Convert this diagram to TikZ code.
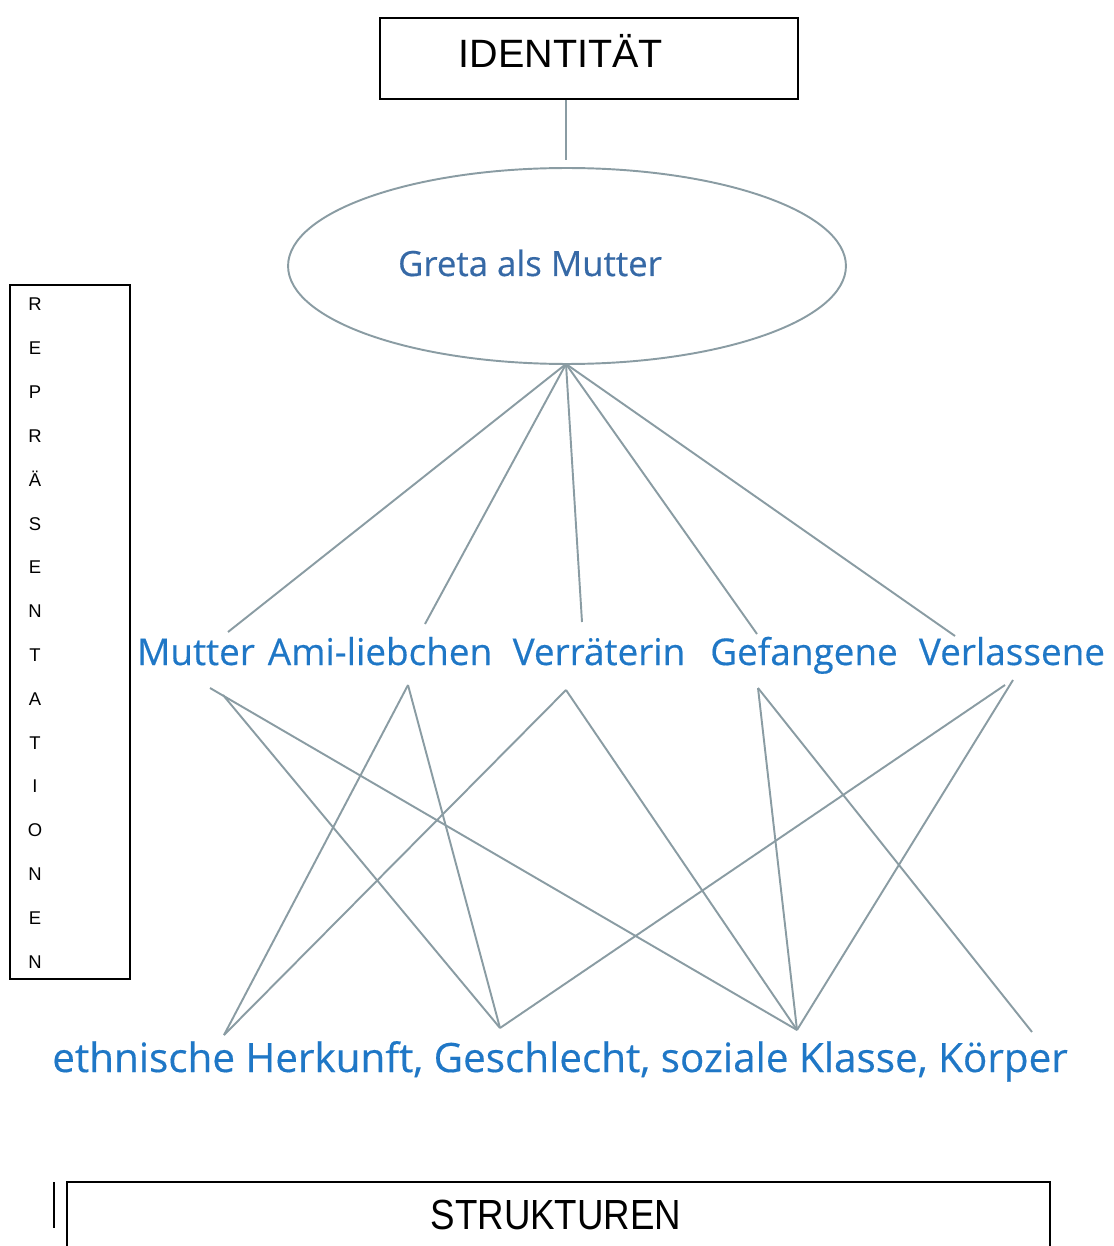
\documentclass[tikz,border=0pt]{standalone}
\usepackage{fontspec}
\setmainfont{Liberation Sans}
\newfontfamily\labelfont[FakeBold=0.4]{Open Sans}
\newfontfamily\narrowfont[FakeStretch=0.87]{Liberation Sans}
\usetikzlibrary{calc}
\usetikzlibrary{shapes,arrows}

\definecolor{linegrey}{HTML}{8A9CA3}
\definecolor{labelblue}{HTML}{1F77C6}
\definecolor{gretablue}{HTML}{3669A6}

\begin{document}
\begin{tikzpicture}[x=0.02cm,y=-0.02cm,
    link/.style={linegrey,line width=1.1pt},
    frame/.style={black,line width=1.1pt},
    role/.style={labelblue,anchor=base,inner sep=0pt,font=\labelfont\fontsize{21}{22}\selectfont}]
    \useasboundingbox (0,0) rectangle (1113,1246);

    \coordinate (G0) at (566,364);
    \coordinate (I0) at (566,100);
    \coordinate (I1) at (566,160);

    \coordinate (A1) at (228,632);
    \coordinate (A2) at (425,624);
    \coordinate (A3) at (582,622);
    \coordinate (A4) at (757,634);
    \coordinate (A5) at (955,636);

    \coordinate (B0) at (210,688);
    \coordinate (B1) at (223,695);
    \coordinate (B2) at (408,685);
    \coordinate (B3) at (566,690);
    \coordinate (B4) at (758,688);
    \coordinate (B5) at (1005,685);
    \coordinate (B6) at (1013,680);

    \coordinate (C1) at (224,1035);
    \coordinate (C2) at (500,1028);
    \coordinate (C3) at (797,1030);
    \coordinate (C4) at (1032,1032);

    % top box and ellipse
    \draw [frame] (380,18) rectangle (798,99);
    \node [anchor=base,inner sep=0pt,font=\fontsize{22.5}{24}\selectfont] (ident) at (561,68) {IDENTITÄT};
    \draw [link] (I0) -- (I1);
    \node [draw=linegrey,line width=1.1pt,ellipse,minimum width=11.16cm,minimum height=3.92cm] (greta) at (567,266) {};
    \node [gretablue,anchor=base,inner sep=0pt,font=\labelfont\fontsize{19.8}{21}\selectfont] (gtext) at (530,276) {Greta als Mutter};

    % left box
    \draw [frame] (10,285) rectangle (130,979);
    \foreach \l [count=\i from 0] in {R,E,P,R,Ä,S,E,N,T,A,T,I,O,N,E,N}
        \node [anchor=base,inner sep=0pt,font=\fontsize{10.5}{11}\selectfont] (r\i) at (35,311+\i*43.8) {\l};

    % upper lines
     \draw [link] (G0) -- (A1);
     \draw [link] (G0) -- (A2);
     \draw [link] (G0) -- (A3);
     \draw [link] (G0) -- (A4);
     \draw [link] (G0) -- (A5);

    \node [role] (mutter) at (196,665) {Mutter};
    \node [role] (ami) at (380,665) {Ami-liebchen};
    \node [role] (verraet) at (599,665) {Verräterin};
    \node [role] (gefangen) at (804,665) {Gefangene};
    \node [role] (verlassen) at (1012,665) {Verlassene};

    % lower lines
     \draw [link] (B0) -- (C3);
     \draw [link] (B1) -- (C2);
     \draw [link] (B2) -- (C1);
     \draw [link] (B2) -- (C2);
     \draw [link] (B3) -- (C1);
     \draw [link] (B3) -- (C3);
     \draw [link] (B4) -- (C3);
     \draw [link] (B4) -- (C4);
     \draw [link] (B5) -- (C2);
     \draw [link] (B6) -- (C3);

    \node [role,font=\labelfont\fontsize{23}{24}\selectfont] (struktur) at (560,1072) {ethnische Herkunft, Geschlecht, soziale Klasse, Körper};

    % bottom box
    \draw [frame] (67,1250) -- (67,1182) -- (1050,1182) -- (1050,1250);
    \draw [frame] (54,1182) -- (54,1228);
    \node [anchor=base,inner sep=0pt,font=\narrowfont\fontsize{24}{25}\selectfont] (strukturen) at (556,1229) {STRUKTUREN};
\end{tikzpicture}
\end{document}
